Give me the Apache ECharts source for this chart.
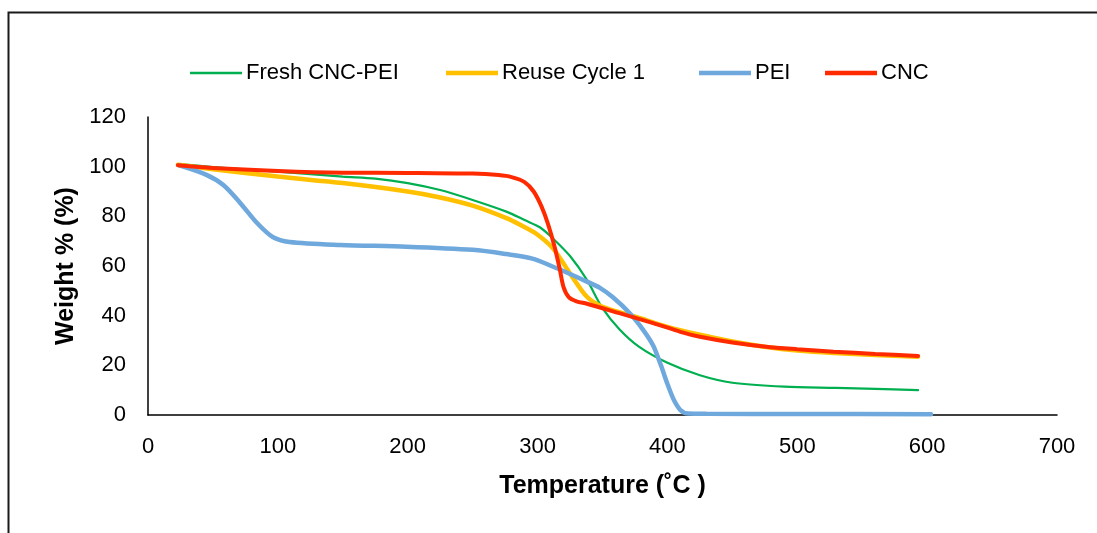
<!DOCTYPE html>
<html>
<head>
<meta charset="utf-8">
<script src="https://cdn.jsdelivr.net/npm/echarts@6/dist/echarts.min.js"></script>
<style>
  html, body { margin: 0; padding: 0; background: #fff; }
  #chart { width: 1097px; height: 533px; }
</style>
</head>
<body>
<div id="chart"></div>
<script>
// TGA curves: [temperature °C, weight %]
const freshCncPei = [
  [25, 101], [50, 99.8], [100, 98], [150, 96], [175, 95.2], [200, 93.4],
  [225, 90.6], [250, 86.6], [276, 81.9], [290, 78.5], [302, 75.5], [312, 71],
  [325, 64], [338, 54.4], [350, 43], [363, 34.5], [378, 27.5], [400, 21],
  [425, 16], [450, 13], [490, 11.4], [530, 10.9], [560, 10.5], [593, 10]
];
const reuseCycle1 = [
  [23, 100.8], [50, 99], [100, 96], [150, 93.4], [200, 90], [225, 87.6],
  [250, 84.3], [276, 79.3], [287, 76.5], [299, 73], [312, 67], [325, 57],
  [338, 47.6], [350, 43.6], [376, 39.5], [400, 35.5], [425, 32.3], [450, 29.6],
  [476, 27.4], [500, 26], [528, 25], [560, 24.2], [593, 23.5]
];
const pei = [
  [24, 100.5], [45, 96.7], [58, 92.6], [71, 85.4], [84, 77.3], [96, 71.7],
  [109, 69.7], [148, 68.5], [199, 67.8], [250, 66.5], [276, 64.8], [296, 63],
  [312, 59.7], [322, 57.5], [338, 53.7], [348, 51.2], [358, 47.4], [371, 41],
  [381, 34.5], [389, 28], [395, 20], [400, 12.5], [405, 6], [410, 2],
  [416, 0.6], [430, 0.5], [500, 0.4], [603, 0.3]
];
const cnc = [
  [23, 100.6], [50, 99.5], [100, 98.3], [150, 97.6], [200, 97.5], [250, 97.2],
  [270, 96.6], [280, 95.8], [290, 93.8], [297, 90], [303, 84], [308, 77],
  [313, 68], [317, 59], [320, 51.5], [324, 47.5], [330, 45.8], [338, 44.8],
  [363, 41], [389, 37], [410, 33.5], [425, 31.5], [450, 29.2], [476, 27.5],
  [500, 26.5], [528, 25.5], [560, 24.6], [593, 23.8]
];

const FONT = 'Liberation Sans, Arial, Helvetica, sans-serif';

const chart = echarts.init(document.getElementById('chart'));

function lineSeries(name, data, color, width) {
  return {
    name: name,
    type: 'line',
    data: data,
    symbol: 'none',
    smooth: 0.3,
    lineStyle: { color: color, width: width, cap: 'round' },
    itemStyle: { color: color }
  };
}

function legendItem(name, left, thick) {
  return {
    data: [name],
    left: left,
    top: 57,
    icon: 'rect',
    itemWidth: 52,
    itemHeight: thick,
    itemGap: 0,
    textStyle: { fontFamily: FONT, fontSize: 22, color: '#000', padding: [0, 0, 0, -1] }
  };
}

chart.setOption({
  animation: false,
  backgroundColor: '#fff',
  graphic: [
    {
      type: 'rect',
      left: 6,
      top: 10,
      shape: { width: 1200, height: 600 },
      style: { fill: 'none', stroke: '#1a1a1a', lineWidth: 2 },
      silent: true
    }
  ],
  legend: [
    legendItem('Fresh CNC-PEI', 185, 2.5),
    legendItem('Reuse Cycle 1', 441, 4.5),
    legendItem('PEI', 694, 4.5),
    legendItem('CNC', 820, 4.5)
  ],
  grid: { left: 148, right: 40, top: 117, bottom: 118 },
  xAxis: {
    type: 'value',
    min: 0,
    max: 700,
    interval: 100,
    name: 'Temperature (˚C )',
    nameLocation: 'middle',
    nameGap: 59,
    nameTextStyle: { fontFamily: FONT, fontSize: 25, fontWeight: 'bold', color: '#000' },
    axisLine: { lineStyle: { color: '#000', width: 1.5 } },
    axisTick: { show: false },
    splitLine: { show: false },
    axisLabel: { fontFamily: FONT, fontSize: 22, color: '#000', margin: 21 }
  },
  yAxis: {
    type: 'value',
    min: 0,
    max: 120,
    interval: 20,
    name: 'Weight % (%)',
    nameLocation: 'middle',
    nameGap: 67,
    nameTextStyle: { fontFamily: FONT, fontSize: 25, fontWeight: 'bold', color: '#000' },
    axisLine: { show: true, lineStyle: { color: '#000', width: 1.5 } },
    axisTick: { show: false },
    splitLine: { show: false },
    axisLabel: { fontFamily: FONT, fontSize: 22, color: '#000', margin: 22 }
  },
  series: [
    lineSeries('Fresh CNC-PEI', freshCncPei, '#00b050', 2.2),
    lineSeries('Reuse Cycle 1', reuseCycle1, '#ffc000', 4.5),
    lineSeries('PEI', pei, '#6fa8dc', 4.5),
    lineSeries('CNC', cnc, '#ff2a00', 4)
  ]
});
</script>
</body>
</html>
